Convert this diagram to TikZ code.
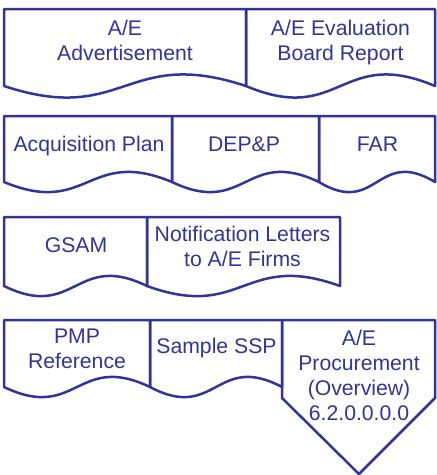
\documentclass[tikz,border=0pt]{standalone}
\usepackage{fontspec}
\setmainfont{Liberation Sans}
\usepackage{tikz}
\usetikzlibrary{calc}
\definecolor{cNavy}{RGB}{51,51,153}
\newcommand{\docfont}{\fontsize{21.2}{25}\selectfont}
\tikzset{
	docline/.style={draw=cNavy, line width=2.5pt, line join=round},
	doctext/.style={text=cNavy, align=center, font=\docfont, inner sep=0pt},
}
% document shape: left, right, top, base of wave, wave bend
\newcommand{\wavedoc}[5]{%
	\draw[docline] (#1,#4) -- (#1,#3) -- (#2,#3) -- (#2,#4)
		.. controls ({(#1+#2)/2},{#4-#5}) and ({(#1+#2)/2},{#4+#5}) .. cycle;}

\begin{document}
\begin{tikzpicture}[x=1pt, y=-1pt]
	\useasboundingbox (0,0) rectangle (437,475);
	% row 1
	\wavedoc{4}{246}{9}{86}{40}
	\wavedoc{246}{435}{9}{86}{40}
	\node[doctext] (adv) at (125,40.9) {A/E\\Advertisement};
	\node[doctext] (board) at (340.5,43) {A/E Evaluation\\Board Report};
	% row 2
	\wavedoc{4}{172}{116}{182}{35}
	\wavedoc{172}{319}{116}{182}{35}
	\wavedoc{319}{435}{116}{182}{35}
	\node[doctext] (acq) at (89,146) {Acquisition Plan};
	\node[doctext] (depp) at (244,143.9) {DEP\&P};
	\node[doctext] (far) at (377.5,143.9) {FAR};
	% row 3
	\wavedoc{4}{147}{217}{286}{35}
	\wavedoc{147}{340}{217}{286}{35}
	\node[doctext] (gsam) at (76,244.9) {GSAM};
	\node[doctext] (notif) at (242.5,246.6) {Notification Letters\\to A/E Firms};
	% row 4
	\wavedoc{4}{150}{320}{387}{35}
	\wavedoc{150}{282}{320}{387}{35}
	\draw[docline] (282,320) -- (435,320) -- (435,398) -- (359,474) -- (282,398) -- cycle;
	\node[doctext] (pmp) at (77,348.6) {PMP\\Reference};
	\node[doctext] (ssp) at (216.5,348.3) {Sample SSP};
	\node[doctext] (proc) at (359,375.9) {A/E\\Procurement\\(Overview)\\6.2.0.0.0.0};
\end{tikzpicture}
\end{document}
